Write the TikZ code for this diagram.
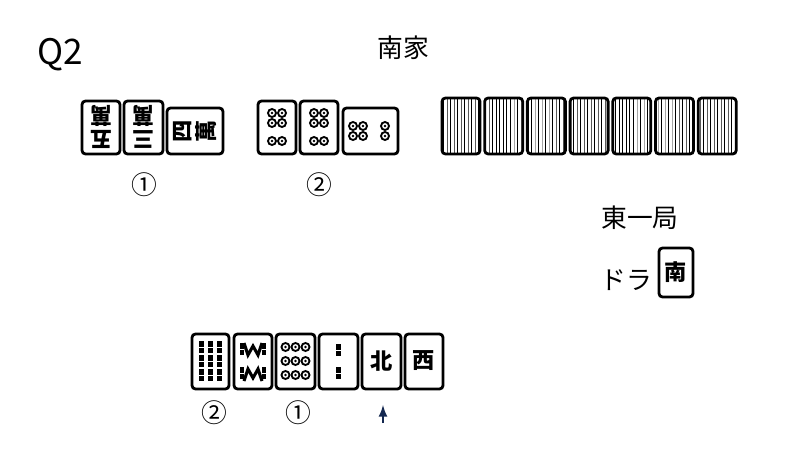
\documentclass[tikz,border=0pt]{standalone}
\usepackage{fontspec}
\setmainfont{Noto Sans CJK JP}
\usetikzlibrary{patterns}

\tikzset{
  tile/.style={draw,line width=2.4pt,rounded corners=3pt,fill=white},
  back/.style={draw,line width=2.4pt,rounded corners=3pt,pattern=vertical lines},
  pip/.style={draw,line width=1.6pt,fill=white},
  lbl/.style={font=\fontsize{22}{22}\selectfont},
  glyph/.style={font=\fontsize{19}{19}\selectfont\bfseries,inner sep=0pt},
}
\newcommand\pinpip[2]{\draw[pip] (#1,#2) circle (0.12cm); \fill (#1,#2) circle (0.04cm);}
\newcommand\soupip[2]{\draw[line width=3.6pt] (#1,#2-6) -- (#1,#2+6); \fill[white] (#1-2.2,#2-0.5) rectangle (#1+2.2,#2+0.5);}

\begin{document}
\begin{tikzpicture}[x=0.03cm,y=-0.03cm]
                \useasboundingbox (0,0) rectangle (800,450);

                \node[font=\fontsize{30}{30}\selectfont] (q) at (60,55) {Q2};
                \node[font=\fontsize{22}{22}\selectfont] (seat) at (403,48) {南家};
                \node[font=\fontsize{22}{22}\selectfont] (round) at (640,218) {東一局};
                \node[font=\fontsize{22}{22}\selectfont] (dora) at (626,280) {ドラ};

                % called man
                \draw[tile] (82,101) rectangle (120,154);
                \node[glyph,rotate=180] (m5) at (101,127) {\shortstack{五\\萬}};
                \draw[tile] (124,101) rectangle (163,154);
                \node[glyph,rotate=180] (m3) at (143,127) {\shortstack{三\\萬}};
                \draw[tile] (167,108) rectangle (223,154);
                \node[glyph,rotate=90] (m4) at (195,131) {\shortstack{四\\萬}};
                \node[lbl] (c1) at (144,185) {①};

                % called pin
                \foreach \x in {258,300} {
                  \draw[tile] (\x,101) rectangle (\x+38,154);
                  \foreach \dx in {-5,5} {
                    \foreach \dy in {113,123,141} {\pinpip{\x+19+\dx}{\dy}}
                  }
                }
                \draw[tile] (343,108) rectangle (398,154);
                \foreach \dx in {353,363} {\foreach \dy in {126,136} {\pinpip{\dx}{\dy}}}
                \pinpip{385}{126} \pinpip{385}{136}
                \node[lbl] (c2) at (319,185) {②};

                % opponent hand
                \foreach \i in {0,...,6} {
                  \draw[back] (442+\i*42.7,98) rectangle (480+\i*42.7,154);
                }

                % dora indicator
                \draw[tile] (659,248) rectangle (693,297);
                \node[glyph] (ind) at (676,272) {南};

                % own hand
                \draw[tile] (192,334) rectangle (229,389);
                \foreach \dx in {-9,0,9} {\foreach \dy in {347,361,375} {\soupip{210.5+\dx}{\dy}}}
                \draw[tile] (234,334) rectangle (272,389);
                \foreach \dx in {-11,11} {\foreach \dy in {349,373} {\soupip{253+\dx}{\dy}}}
                \draw[line width=2.6pt] (244,343) -- (248,355) -- (253,346) -- (258,355) -- (262,343);
                \draw[line width=2.6pt] (244,381) -- (248,369) -- (253,378) -- (258,369) -- (262,381);
                \draw[tile] (276,334) rectangle (315,389);
                \foreach \dx in {-10,0,10} {\foreach \dy in {347,361,375} {\pinpip{295.5+\dx}{\dy}}}
                \draw[tile] (319,334) rectangle (358,389);
                \soupip{338.5}{350} \soupip{338.5}{373}
                \draw[tile] (362,334) rectangle (401,389);
                \node[glyph] (n5) at (381.5,361) {北};
                \draw[tile] (405,334) rectangle (443,389);
                \node[glyph] (n6) at (424,361) {西};
                \node[lbl] (d2) at (214,413) {②};
                \node[lbl] (d1) at (298,413) {①};
                \coordinate (tip) at (383,405);
                \draw[-latex,line width=2.4pt,draw={rgb,255:red,20;green,40;blue,80}] (383,423) -- (tip);
\end{tikzpicture}
\end{document}
